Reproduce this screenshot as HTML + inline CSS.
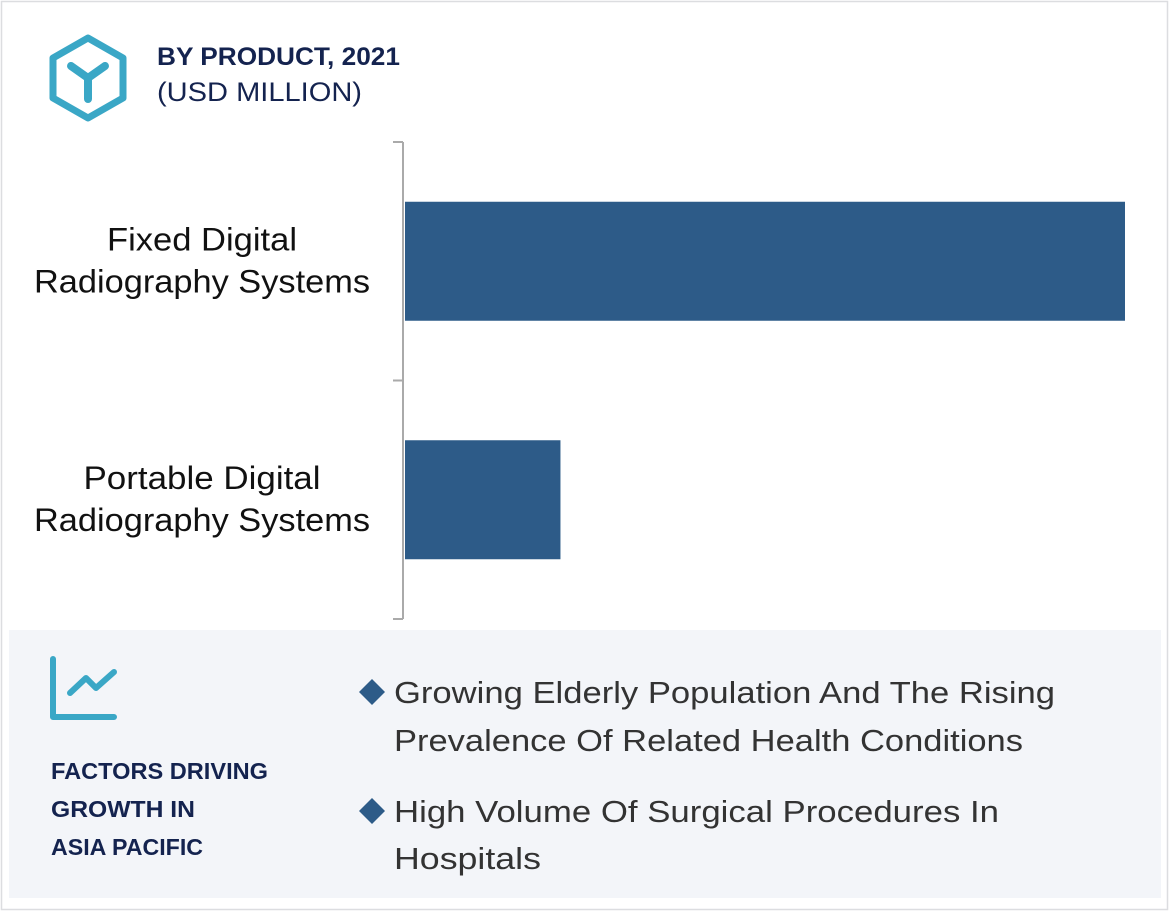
<!DOCTYPE html>
<html><head><meta charset="utf-8"><style>
html,body{margin:0;padding:0;background:#fff}
body{width:1170px;height:913px;overflow:hidden;font-family:"Liberation Sans",sans-serif}
</style></head><body>
<svg width="1170" height="913" xmlns="http://www.w3.org/2000/svg">
<rect x="1.5" y="1.5" width="1166" height="908" fill="#fff" stroke="#dcdde0" stroke-width="1.5"/>
<g fill="none" stroke="#3aa7c6" stroke-linecap="round" stroke-linejoin="round">
<polygon points="88,38 123,58 123,98 88,118 53,98 53,58" stroke-width="7"/>
<path d="M71,66 L88,78 L105,66 M88,78 L88,99" stroke-width="8"/>
</g>
<text x="157" y="65" font-size="25" font-weight="bold" fill="#14234f" textLength="243" lengthAdjust="spacingAndGlyphs">BY PRODUCT, 2021</text>
<text x="157" y="101" font-size="27" fill="#14234f" textLength="205" lengthAdjust="spacingAndGlyphs">(USD MILLION)</text>
<g id="plot"></g>
<rect x="9" y="630" width="1152" height="268" fill="#f3f5f9"/>
<g fill="none" stroke="#3aa7c6" stroke-width="6" stroke-linecap="round" stroke-linejoin="round">
<path d="M53,659 L53,717 L114,717"/>
<path d="M70,693 L86,678 L96,688 L114,672"/>
</g>
<g font-size="23" font-weight="bold" fill="#14234f">
<text x="51" y="779" textLength="217" lengthAdjust="spacingAndGlyphs">FACTORS DRIVING</text>
<text x="51" y="817" textLength="144" lengthAdjust="spacingAndGlyphs">GROWTH IN</text>
<text x="51" y="855" textLength="152" lengthAdjust="spacingAndGlyphs">ASIA PACIFIC</text>
</g>
<g font-size="31" fill="#333">
<polygon points="372,679 385,692 372,705 359,692" fill="#2d5b88"/>
<text x="394" y="703" textLength="661" lengthAdjust="spacingAndGlyphs">Growing Elderly Population And The Rising</text>
<text x="394" y="751" textLength="629" lengthAdjust="spacingAndGlyphs">Prevalence Of Related Health Conditions</text>
<polygon points="372,798 385,811 372,824 359,811" fill="#2d5b88"/>
<text x="394" y="822" textLength="605" lengthAdjust="spacingAndGlyphs">High Volume Of Surgical Procedures In</text>
<text x="394" y="869" textLength="147" lengthAdjust="spacingAndGlyphs">Hospitals</text>
</g>
</svg>
<script>
const categories = [["Fixed Digital","Radiography Systems"],["Portable Digital","Radiography Systems"]];
const values = [1000, 217];
const xMax = 1000;
const labelWidths = {"Fixed Digital":190,"Radiography Systems":336,"Portable Digital":237};
const NS="http://www.w3.org/2000/svg";
const g=document.getElementById('plot');
const x0=404, x1=1125, yTop=142, yBot=619;
const band=(yBot-yTop)/categories.length;
function xs(v){return x0+(v/xMax)*(x1-x0);}
function mk(t,a){const e=document.createElementNS(NS,t);for(const k in a)e.setAttribute(k,a[k]);g.appendChild(e);return e;}
const axis=mk('line',{x1:403,y1:yTop,x2:403,y2:yBot,stroke:'#aaa','stroke-width':2});


for(let i=0;i<=categories.length;i++){
  const y=yTop+i*band;
  const t=mk('line',{x1:393,y1:y,x2:403,y2:y,stroke:'#aaa','stroke-width':2});
  
  
}
categories.forEach((c,i)=>{
  const yc=yTop+band*(i+0.5);
  const h=119;
  const r=mk('rect',{x:405,y:yc-h/2,width:xs(values[i])-405,height:h,fill:'#2d5b88'});
  
  
  c.forEach((line,j)=>{
    const t=mk('text',{x:202,y:yc-11+j*42,'text-anchor':'middle','font-size':32,fill:'#111',textLength:labelWidths[line],lengthAdjust:'spacingAndGlyphs'});
    t.textContent=line;
    
    
  });
});
</script>
</body></html>
